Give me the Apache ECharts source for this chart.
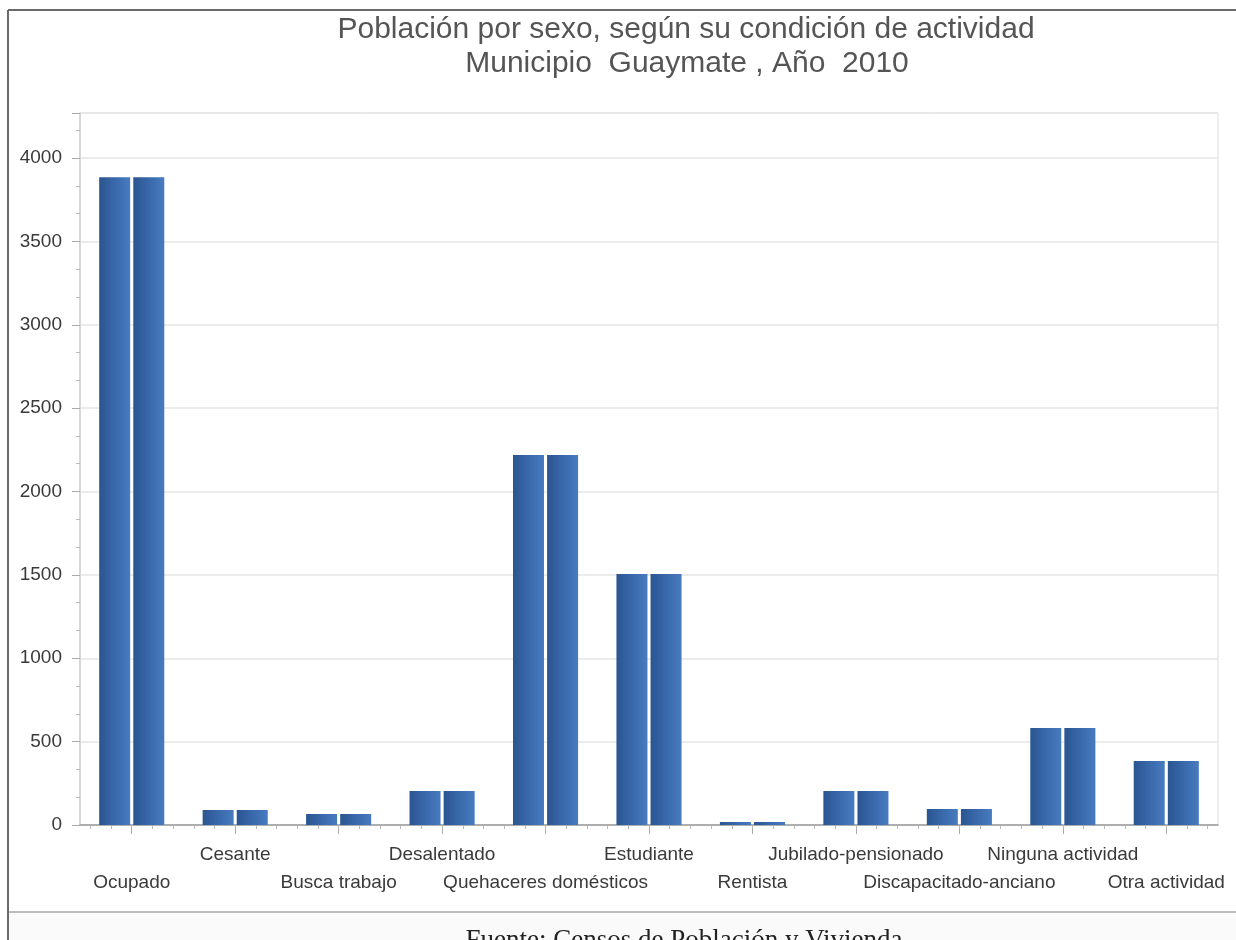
<!DOCTYPE html>
<html>
<head>
<meta charset="utf-8">
<script src="https://cdn.jsdelivr.net/npm/echarts@6/dist/echarts.min.js"></script>
<style>
html,body{margin:0;padding:0;background:#fff;}
#chart{width:1236px;height:940px;}
</style>
</head>
<body>
<div id="chart"></div>
<script>
var titleLines = ['Población por sexo, según su condición de actividad', 'Municipio  Guaymate , Año  2010'];
var sourceText = 'Fuente: Censos de Población y Vivienda';
var categories = ['Ocupado', 'Cesante', 'Busca trabajo', 'Desalentado', 'Quehaceres domésticos', 'Estudiante', 'Rentista', 'Jubilado-pensionado', 'Discapacitado-anciano', 'Ninguna actividad', 'Otra actividad'];
var seriesA = [3885, 90, 66, 204, 2219, 1505, 18, 204, 96, 582, 384];
var seriesB = [3885, 90, 66, 204, 2219, 1505, 18, 204, 96, 582, 384];
var yMax = 4270;
var yInterval = 500;

var minorCats = [];
for (var i = 0; i < categories.length * 5; i++) minorCats.push(String(i));

var barColor = new echarts.graphic.LinearGradient(0, 0, 1, 0, [
  {offset: 0, color: '#2a5590'},
  {offset: 0.55, color: '#3b6aad'},
  {offset: 1, color: '#477bc0'}
]);

var chart = echarts.init(document.getElementById('chart'), null, {renderer: 'canvas'});
chart.setOption({
  animation: false,
  backgroundColor: '#ffffff',
  grid: {left: 80, right: 18, top: 113, bottom: 115, show: true, borderColor: '#dcdcdc', borderWidth: 1, backgroundColor: '#ffffff'},
  xAxis: [{
    type: 'category',
    data: categories,
    boundaryGap: true,
    axisLine: {show: true, lineStyle: {color: '#9a9a9a', width: 1.5}},
    axisTick: {show: true, alignWithLabel: true, length: 9, lineStyle: {color: '#aaaaaa'}},
    axisLabel: {
      interval: 0,
      margin: 16,
      color: '#3a3a3a',
      fontFamily: 'Liberation Sans',
      fontSize: 19,
      lineHeight: 28,
      formatter: function (v, idx) { return idx % 2 === 1 ? v + '\n ' : ' \n' + v; }
    },
    splitLine: {show: false}
  }, {
    type: 'category',
    data: minorCats,
    position: 'bottom',
    boundaryGap: true,
    axisLine: {show: false},
    axisTick: {show: true, alignWithLabel: true, length: 4, lineStyle: {color: '#b5b5b5'}},
    axisLabel: {show: false},
    splitLine: {show: false}
  }],
  yAxis: {
    type: 'value',
    min: 0,
    max: yMax,
    interval: yInterval,
    axisLine: {show: true, lineStyle: {color: '#cfcfcf', width: 1.5}},
    axisTick: {show: true, length: 8, lineStyle: {color: '#aaaaaa'}},
    minorTick: {show: true, splitNumber: 3, length: 4, lineStyle: {color: '#bbbbbb'}},
    axisLabel: {showMaxLabel: false, margin: 18, color: '#3a3a3a', fontFamily: 'Liberation Sans', fontSize: 19,
      formatter: function (v) { return String(v); }},
    splitLine: {show: true, lineStyle: {color: '#e6e6e6', width: 1.5}}
  },
  series: [{
    type: 'bar',
    data: seriesA,
    barWidth: 31,
    barGap: '10%',
    itemStyle: {color: barColor}
  }, {
    type: 'bar',
    data: seriesB,
    barWidth: 31,
    barGap: '10%',
    itemStyle: {color: barColor}
  }],
  graphic: [
    {type: 'line', shape: {x1: 8, y1: 10, x2: 8, y2: 940}, style: {stroke: '#6a6a6a', lineWidth: 2}, silent: true},
    {type: 'line', shape: {x1: 8, y1: 10, x2: 1236, y2: 10}, style: {stroke: '#6a6a6a', lineWidth: 2}, silent: true},
    {type: 'rect', shape: {x: 9, y: 912, width: 1227, height: 28}, style: {fill: '#fafafa'}, silent: true},
    {type: 'line', shape: {x1: 9, y1: 912, x2: 1236, y2: 912}, style: {stroke: '#bdbdbd', lineWidth: 2}, silent: true},
    {type: 'text', x: 686, y: 30, style: {text: titleLines[0], fill: '#555555', font: '30px "Liberation Sans"', textAlign: 'center', textVerticalAlign: 'middle'}, silent: true},
    {type: 'text', x: 687, y: 64, style: {text: titleLines[1], fill: '#555555', font: '30px "Liberation Sans"', textAlign: 'center', textVerticalAlign: 'middle'}, silent: true},
    {type: 'text', x: 684, y: 927, style: {text: sourceText, fill: '#222222', font: '27px "Liberation Serif"', textAlign: 'center', textVerticalAlign: 'top'}, silent: true}
  ]
});
</script>
</body>
</html>
